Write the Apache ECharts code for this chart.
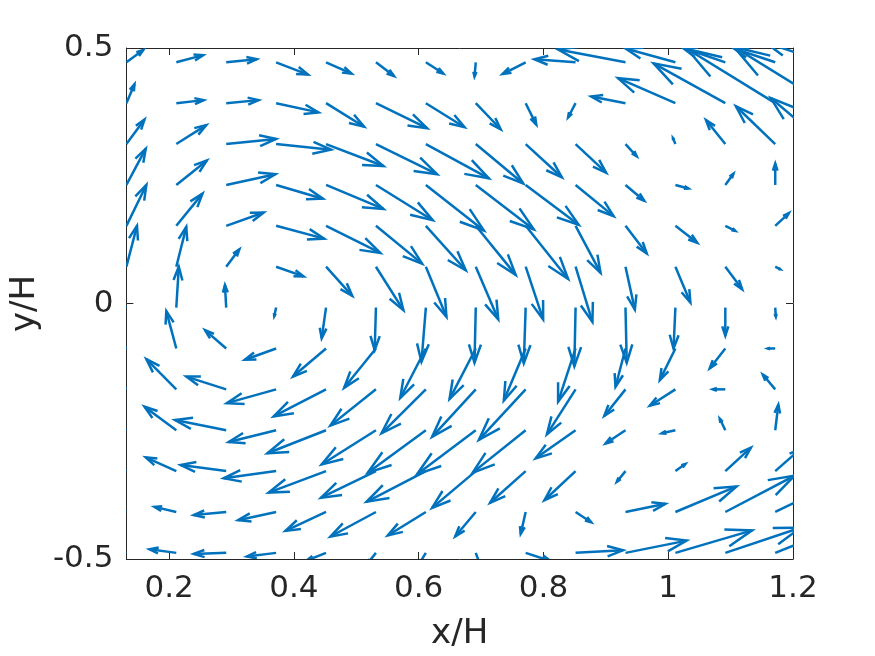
<!DOCTYPE html>
<html>
<head>
<meta charset="utf-8">
<script src="https://cdn.jsdelivr.net/npm/echarts@6/dist/echarts.min.js"></script>
<style>
  html, body { margin: 0; padding: 0; background: #fff; }
  #chart { width: 875px; height: 656px; }
</style>
</head>
<body>
<div id="chart"></div>
<script>
// grid of arrow tails (x/H, y/H)
var xs = [0.1315, 0.2115, 0.2915, 0.3715, 0.4515, 0.5315, 0.6115, 0.6915, 0.7715, 0.8515, 0.9315, 1.0115, 1.0915, 1.1715, 1.2515];
var ys = [0.472, 0.392, 0.312, 0.232, 0.152, 0.072, -0.008, -0.088, -0.168, -0.248, -0.328, -0.408, -0.488];

// arrow components (already scaled, in axis units); null = not visible
var U = [
  [0.027, 0.043, 0.049, 0.051, 0.041, 0.029, 0.028, -0.002, -0.037, -0.066, -0.108, -0.080, -0.069, -0.066, -0.096],
  [0.013, 0.044, 0.052, 0.068, 0.061, 0.082, 0.062, 0.040, 0.017, -0.012, -0.055, -0.092, -0.115, -0.141, -0.146],
  [0.029, 0.048, 0.080, 0.088, 0.092, 0.098, 0.101, 0.076, 0.058, 0.049, 0.018, -0.004, -0.031, -0.063, -0.087],
  [0.031, 0.049, 0.079, 0.075, 0.092, 0.091, 0.093, 0.093, 0.085, 0.061, 0.030, 0.021, 0.013, 0.000, null],
  [0.032, 0.042, 0.060, 0.077, 0.087, 0.074, 0.064, 0.064, 0.068, 0.040, 0.034, 0.035, 0.016, 0.022, null],
  [0.017, 0.016, 0.021, 0.044, 0.042, 0.044, 0.033, 0.036, 0.028, 0.027, 0.015, 0.024, 0.027, 0.008, null],
  [-0.019, 0.004, -0.002, -0.003, -0.007, -0.002, -0.007, -0.002, -0.003, -0.002, 0.002, -0.003, 0.000, 0.001, null],
  [-0.032, -0.016, -0.034, -0.050, -0.053, -0.051, -0.041, -0.042, -0.035, -0.028, -0.016, -0.025, -0.025, -0.012, null],
  [-0.040, -0.048, -0.064, -0.079, -0.084, -0.073, -0.071, -0.070, -0.075, -0.046, -0.034, -0.041, -0.020, -0.020, null],
  [-0.040, -0.051, -0.082, -0.076, -0.094, -0.087, -0.093, -0.094, -0.085, -0.064, -0.032, -0.022, -0.009, 0.005, null],
  [-0.040, -0.049, -0.073, -0.084, -0.092, -0.088, -0.095, -0.070, -0.057, -0.050, -0.014, 0.016, 0.041, 0.040, null],
  [-0.032, -0.035, -0.052, -0.061, -0.065, -0.073, -0.061, -0.033, -0.008, 0.025, 0.064, 0.098, 0.111, 0.072, null],
  [-0.032, -0.043, -0.052, -0.047, -0.031, -0.013, -0.010, 0.006, 0.040, 0.076, 0.098, 0.123, 0.120, 0.080, null]
];
var V = [
  [0.024, 0.014, 0.006, -0.024, -0.022, -0.027, -0.022, -0.028, -0.023, 0.006, 0.025, 0.027, 0.029, 0.027, 0.039],
  [0.037, 0.006, 0.006, -0.018, -0.046, -0.049, -0.047, -0.051, -0.042, -0.028, 0.013, 0.049, 0.078, 0.106, 0.110],
  [0.048, 0.037, 0.010, -0.011, -0.043, -0.059, -0.067, -0.077, -0.065, -0.056, -0.024, 0.012, 0.047, 0.074, 0.090],
  [0.071, 0.048, 0.021, -0.027, -0.047, -0.069, -0.089, -0.087, -0.078, -0.061, -0.031, -0.007, 0.022, 0.042, null],
  [0.080, 0.063, 0.026, -0.025, -0.053, -0.074, -0.087, -0.096, -0.104, -0.092, -0.054, -0.033, -0.010, 0.025, null],
  [0.080, 0.078, 0.034, -0.019, -0.057, -0.085, -0.098, -0.103, -0.103, -0.108, -0.084, -0.070, -0.044, -0.005, null],
  [0.016, 0.080, 0.044, -0.017, -0.060, -0.083, -0.106, -0.108, -0.109, -0.115, -0.108, -0.080, -0.055, -0.018, null],
  [0.049, 0.073, 0.036, -0.022, -0.055, -0.077, -0.097, -0.099, -0.102, -0.104, -0.075, -0.062, -0.039, 0.000, null],
  [0.049, 0.059, 0.025, -0.027, -0.053, -0.071, -0.086, -0.093, -0.099, -0.088, -0.052, -0.032, 0.000, 0.029, null],
  [0.035, 0.046, 0.020, -0.023, -0.045, -0.067, -0.083, -0.086, -0.083, -0.055, -0.026, -0.006, 0.023, 0.050, null],
  [0.020, 0.027, 0.012, -0.014, -0.042, -0.052, -0.060, -0.072, -0.062, -0.057, -0.021, 0.014, 0.046, 0.043, null],
  [0.010, 0.010, -0.006, -0.016, -0.037, -0.048, -0.046, -0.048, -0.043, -0.020, 0.016, 0.050, 0.071, 0.043, null],
  [0.004, 0.007, -0.002, -0.007, -0.015, -0.020, -0.020, -0.020, -0.016, 0.005, 0.024, 0.044, 0.049, 0.039, null]
];

var xTicks = [0.2, 0.4, 0.6, 0.8, 1, 1.2];
var xMin = 0.1315, xMax = 1.2;
var yMin = -0.5, yMax = 0.5;

var arrows = [];
for (var j = 0; j < ys.length; j++) {
  for (var i = 0; i < xs.length; i++) {
    if (U[j][i] == null) continue;
    arrows.push([xs[i], ys[j], U[j][i], V[j][i]]);
  }
}

var axisColor = "#262626";
var arrowColor = "#0072BD";
var font = "DejaVu Sans";

// shaft + two head strokes, like matlab quiver
function renderArrow(params, api) {
  var x = api.value(0), y = api.value(1);
  var p0 = api.coord([x, y]);
  var p1 = api.coord([x + api.value(2), y + api.value(3)]);
  var dx = p1[0] - p0[0], dy = p1[1] - p0[1];
  if (Math.sqrt(dx * dx + dy * dy) < 0.5) return;
  var a = 0.33, b = 0.33;
  var w1 = [p1[0] - a * (dx + b * dy), p1[1] - a * (dy - b * dx)];
  var w2 = [p1[0] - a * (dx - b * dy), p1[1] - a * (dy + b * dx)];
  var st = { stroke: arrowColor, lineWidth: 2.5, fill: null };
  return {
    type: "group",
    children: [
      { type: "polyline", shape: { points: [p0, p1] }, style: st },
      { type: "polyline", shape: { points: [w1, p1, w2] }, style: st }
    ]
  };
}

var chart = echarts.init(document.getElementById("chart"));
var line = { show: true, onZero: false, lineStyle: { color: axisColor, width: 1 } };
var option = {
  backgroundColor: "#fff",
  animation: false,
  grid: { left: 126, right: 82, top: 48, bottom: 97 },
  xAxis: [
    {
      type: "value", position: "bottom", min: xMin, max: xMax,
      axisLine: line,
      axisTick: { inside: true, length: 7, customValues: xTicks, lineStyle: { color: axisColor } },
      axisLabel: {
        customValues: xTicks, margin: 14, fontSize: 31, color: axisColor, fontFamily: font,
        formatter: function (v) { return String(Math.round(v * 10) / 10); }
      },
      splitLine: { show: false },
      name: "x/H", nameLocation: "middle", nameGap: 58,
      nameTextStyle: { fontSize: 34, color: axisColor, fontFamily: font }
    },
    {
      type: "value", position: "top", min: xMin, max: xMax,
      axisLine: line,
      axisTick: { inside: true, length: 7, customValues: xTicks, lineStyle: { color: axisColor } },
      axisLabel: { show: false },
      splitLine: { show: false }
    }
  ],
  yAxis: [
    {
      type: "value", position: "left", min: yMin, max: yMax, interval: 0.5,
      axisLine: line,
      axisTick: { inside: true, length: 7, lineStyle: { color: axisColor } },
      axisLabel: { margin: 13, fontSize: 31, color: axisColor, fontFamily: font },
      splitLine: { show: false },
      name: "y/H", nameLocation: "middle", nameGap: 82,
      nameTextStyle: { fontSize: 34, color: axisColor, fontFamily: font }
    },
    {
      type: "value", position: "right", min: yMin, max: yMax, interval: 0.5,
      axisLine: line,
      axisTick: { inside: true, length: 7, lineStyle: { color: axisColor } },
      axisLabel: { show: false },
      splitLine: { show: false }
    }
  ],
  series: [
    {
      type: "custom",
      xAxisIndex: 0,
      yAxisIndex: 0,
      clip: true,
      silent: true,
      renderItem: renderArrow,
      data: arrows
    }
  ]
};
chart.setOption(option);
</script>
</body>
</html>
